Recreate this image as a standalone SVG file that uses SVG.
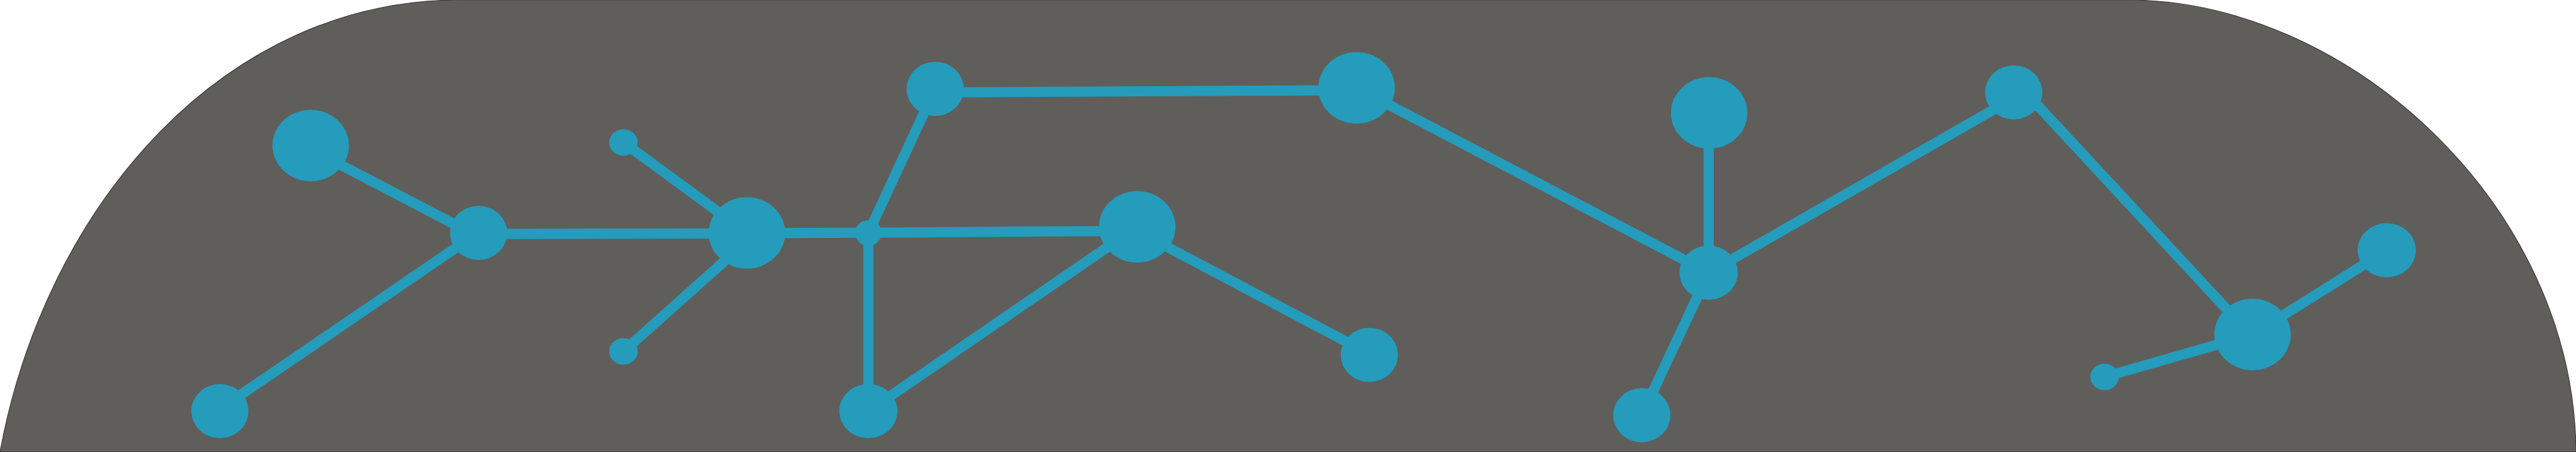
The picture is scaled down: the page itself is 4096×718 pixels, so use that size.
<svg xmlns="http://www.w3.org/2000/svg" width="4096" height="718" viewBox="0 0 4096 718">
<style>
.bg{fill:#5f5e5a;stroke:#3a3a38;stroke-width:1.5}
.n{fill:#259cbb}
.e{stroke:#259cbb;stroke-width:20;fill:none;stroke-linecap:butt}
</style>
<g transform="scale(0.81125)">
<path class="bg" d="M0,885 C90,400 440,0 900,0 L4170,0 C4600,0 5045,400 5049,885 Z"/>
<g id="connectors">
<line class="e" x1="609" y1="292" x2="938" y2="464"/>
<line class="e" x1="431" y1="801" x2="938" y2="455"/>
<line class="e" x1="938" y1="458" x2="1464" y2="457"/>
<line class="e" x1="1222" y1="279" x2="1464" y2="456"/>
<line class="e" x1="1222" y1="688" x2="1464" y2="472"/>
<line class="e" x1="1464" y1="457" x2="1702" y2="455.5"/>
<line class="e" x1="1702" y1="456" x2="1833" y2="174"/>
<line class="e" x1="1702" y1="456" x2="1702" y2="805"/>
<line class="e" x1="1702" y1="455.5" x2="2229" y2="452"/>
<line class="e" x1="1833" y1="181" x2="2659" y2="176.5"/>
<line class="e" x1="1702" y1="805" x2="2229" y2="444"/>
<line class="e" x1="2229" y1="452.6" x2="2684" y2="693"/>
<line class="e" x1="2659" y1="172" x2="3349" y2="534"/>
<line class="e" x1="3349" y1="534" x2="3349" y2="221"/>
<line class="e" x1="3349" y1="534" x2="3218" y2="813"/>
<line class="e" x1="3349" y1="534" x2="3947" y2="192"/>
<line class="e" x1="3960" y1="170" x2="4415" y2="660"/>
<line class="e" x1="4415" y1="655" x2="4678" y2="490"/>
<line class="e" x1="4415" y1="655" x2="4125" y2="738"/>
</g>
<g id="node-a"><ellipse class="n" cx="609" cy="285" rx="75" ry="70"/></g>
<g id="node-b"><ellipse class="n" cx="938" cy="456" rx="56" ry="53"/></g>
<g id="node-c"><ellipse class="n" cx="431" cy="805" rx="56" ry="53"/></g>
<g id="node-d"><ellipse class="n" cx="1222" cy="279" rx="28" ry="26"/></g>
<g id="node-e"><ellipse class="n" cx="1222" cy="688" rx="28" ry="26"/></g>
<g id="node-f"><ellipse class="n" cx="1464" cy="456" rx="75" ry="70"/></g>
<g id="node-g"><ellipse class="n" cx="1702" cy="456" rx="26" ry="25"/></g>
<g id="node-h"><ellipse class="n" cx="1833" cy="174" rx="56" ry="53"/></g>
<g id="node-i"><ellipse class="n" cx="2659" cy="172" rx="75" ry="70"/></g>
<g id="node-j"><ellipse class="n" cx="2229" cy="444" rx="75" ry="70"/></g>
<g id="node-k"><ellipse class="n" cx="1702" cy="805" rx="57" ry="53"/></g>
<g id="node-l"><ellipse class="n" cx="2684" cy="695" rx="56" ry="53"/></g>
<g id="node-m"><ellipse class="n" cx="3218" cy="813" rx="56" ry="53"/></g>
<g id="node-n"><ellipse class="n" cx="3350" cy="221" rx="75" ry="70"/></g>
<g id="node-o"><ellipse class="n" cx="3349" cy="534" rx="57" ry="53"/></g>
<g id="node-p"><ellipse class="n" cx="3947" cy="181" rx="56" ry="53"/></g>
<g id="node-q"><ellipse class="n" cx="4415" cy="655" rx="75" ry="70"/></g>
<g id="node-r"><ellipse class="n" cx="4678" cy="490" rx="57" ry="53"/></g>
<g id="node-s"><ellipse class="n" cx="4125" cy="738" rx="28" ry="26"/></g>
</g>
</svg>
